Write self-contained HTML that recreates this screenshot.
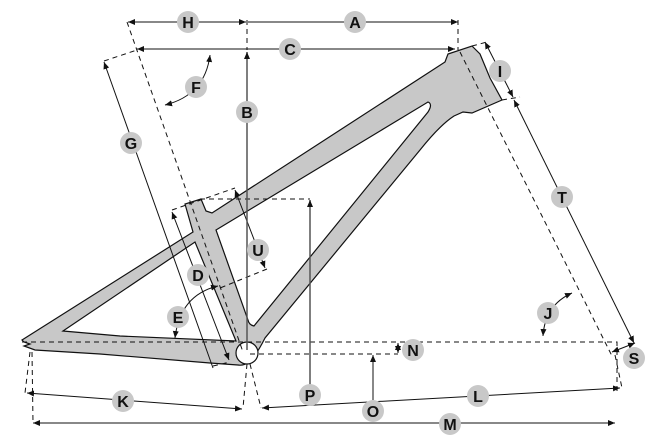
<!DOCTYPE html>
<html><head><meta charset="utf-8"><style>
html,body{margin:0;padding:0;background:#fff;}
svg{display:block;}
text{font-family:"Liberation Sans",Arial,sans-serif;font-weight:bold;font-size:16px;fill:#111;}
</style></head><body>
<svg width="667" height="445" viewBox="0 0 667 445" xmlns="http://www.w3.org/2000/svg">
<defs>
<marker id="a" markerWidth="8" markerHeight="8" refX="7" refY="4" orient="auto-start-reverse" markerUnits="userSpaceOnUse">
<path d="M0,1 L7,4 L0,7 Z" fill="#111"/></marker>
</defs>
<path fill="#c8c8c8" stroke="#111" stroke-width="1.2" fill-rule="evenodd" d="
M22,340 L193,232 L185,204 L201,199 L206,211 L212,213 L445,62 L448,54 L472,46 L480,54 L490,78 L502,100 L472,113 L463,112 L454,116 Q440,125 420,150 L265,338 Q258,352 250,362 Q243,366 238,365 L210,363 L100,354 L35,350 L24,346 L30,344 L24,342 Z
M63,331 L195,242 L236,341 L120,336 Z
M216,230 L428,102 Q433,104 428,112 L254,326 Q249,325 248,320 Z"/>
<circle cx="247" cy="353" r="11" fill="#fff" stroke="#111" stroke-width="1.2"/>
<g fill="none" stroke="#111" stroke-width="1" stroke-dasharray="5,4">
<path d="M247,20 V50"/><path d="M458,20 V50"/>
<path d="M127,22 L243,352"/>
<path d="M104,61 L137,50"/>
<path d="M172,210 L235,188"/>
<path d="M200,199 H310"/>
<path d="M267,269 L220,288"/>
<path d="M22,342 H617 V392"/>
<path d="M250,354 H398"/>
<path d="M30,352 L25,393"/><path d="M32,352 L33,423"/>
<path d="M247,364 L243,408"/><path d="M250,364 L261,408"/>
<path d="M460,52 L612,356"/>
<path d="M472,46 L487,42"/><path d="M502,100 L520,97"/>
<path d="M615,355 L622,388"/>
<path d="M213,366 L230,362"/>
</g>
<g fill="none" stroke="#111" stroke-width="1">
<path d="M128,22 H246" marker-start="url(#a)" marker-end="url(#a)"/>
<path d="M248,22 H458" marker-end="url(#a)"/>
<path d="M137,49 H455" marker-start="url(#a)" marker-end="url(#a)"/>
<path d="M104,62 L213,368" marker-start="url(#a)"/>
<path d="M172,212 L229,360" marker-start="url(#a)" marker-end="url(#a)"/>
<path d="M235,190 L265,268" marker-start="url(#a)" marker-end="url(#a)"/>
<path d="M210,55 Q205,95 165,105" marker-start="url(#a)" marker-end="url(#a)"/>
<path d="M218,286 Q180,295 175,338" marker-start="url(#a)" marker-end="url(#a)"/>
<path d="M572,293 Q545,305 543,336" marker-start="url(#a)" marker-end="url(#a)"/>
<path d="M398,343 V353" marker-start="url(#a)" marker-end="url(#a)"/>
<path d="M373,400 V355" marker-end="url(#a)"/>
<path d="M262,408 L620,388" marker-start="url(#a)" marker-end="url(#a)"/>
<path d="M33,423 H615" marker-start="url(#a)" marker-end="url(#a)"/>
<path d="M27,393 L242,409" marker-start="url(#a)" marker-end="url(#a)"/>
<path d="M485,42 L513,97" marker-start="url(#a)" marker-end="url(#a)"/>
<path d="M514,100 L634,343" marker-start="url(#a)" marker-end="url(#a)"/>
<path d="M612,352 L635,343" marker-start="url(#a)" marker-end="url(#a)"/>
</g>
<g fill="none" stroke="#555" stroke-width="1.5">
<path d="M247,52 V350" marker-start="url(#a)"/>
<path d="M310,395 V200" marker-end="url(#a)"/>
</g>
<g>
<g fill="#c8c8c8">
<circle cx="188" cy="22" r="11"/><circle cx="355" cy="22" r="11"/>
<circle cx="290" cy="49" r="11"/><circle cx="196" cy="87" r="11"/>
<circle cx="247" cy="112" r="11"/><circle cx="131" cy="143" r="11"/>
<circle cx="500" cy="71" r="11"/><circle cx="562" cy="197" r="11"/>
<circle cx="258" cy="250" r="11"/><circle cx="198" cy="275" r="11"/>
<circle cx="178" cy="317" r="11"/><circle cx="548" cy="313" r="11"/>
<circle cx="413" cy="350" r="11"/><circle cx="634" cy="358" r="11"/>
<circle cx="310" cy="395" r="11"/><circle cx="478" cy="396" r="11"/>
<circle cx="123" cy="401" r="11"/><circle cx="373" cy="411" r="11"/>
<circle cx="450" cy="424" r="11"/>
</g>
<g text-anchor="middle">
<text x="188" y="28">H</text><text x="355" y="28">A</text>
<text x="290" y="55">C</text><text x="196" y="93">F</text>
<text x="247" y="118">B</text><text x="131" y="149">G</text>
<text x="500" y="77">I</text><text x="562" y="203">T</text>
<text x="258" y="256">U</text><text x="198" y="281">D</text>
<text x="178" y="323">E</text><text x="548" y="319">J</text>
<text x="413" y="356">N</text><text x="634" y="364">S</text>
<text x="310" y="401">P</text><text x="478" y="402">L</text>
<text x="123" y="407">K</text><text x="373" y="417">O</text>
<text x="450" y="430">M</text>
</g>
</g>
</svg>
</body></html>
